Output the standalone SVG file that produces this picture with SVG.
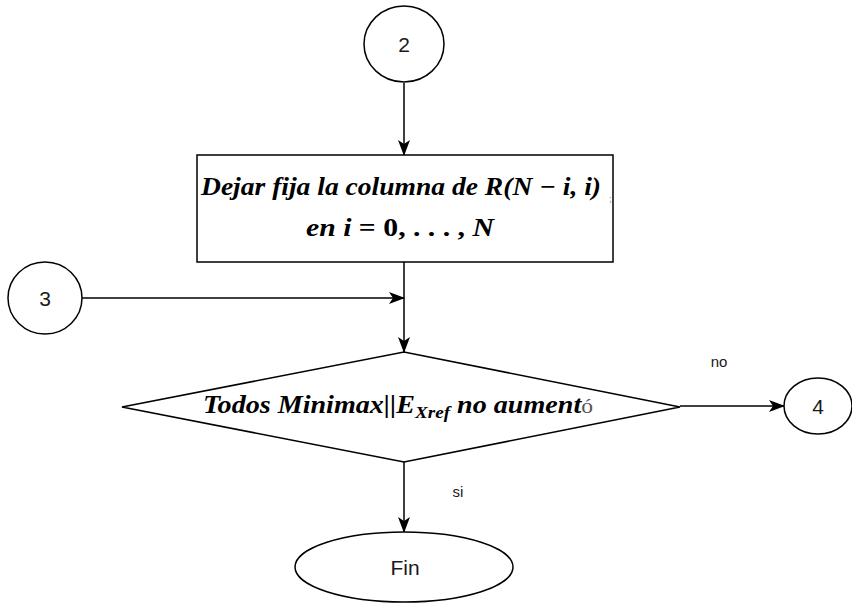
<svg xmlns="http://www.w3.org/2000/svg" width="852" height="605" viewBox="0 0 852 605">
  <style>
    .shape { fill: #ffffff; stroke: #000000; stroke-width: 1.5; }
    .edge { fill: none; stroke: #000000; stroke-width: 1.5; }
    .lbl { font-family: "Liberation Sans", Arial, sans-serif; font-size: 21px; fill: #1a1a1a; text-anchor: middle; }
    .math { font-family: "Liberation Serif", "Times New Roman", serif; font-weight: bold; font-size: 25px; fill: #000000; text-anchor: middle; }
    .it { font-style: italic; }
    .edgelbl { font-family: "Liberation Sans", Arial, sans-serif; font-size: 15px; fill: #1a1a1a; text-anchor: middle; }
  </style>
  <defs>
    <marker id="arrow" viewBox="0 0 16 12" refX="15" refY="6" markerWidth="16" markerHeight="12" markerUnits="userSpaceOnUse" orient="auto">
      <path d="M0,0 L16,6 L0,12 L4,6 Z" fill="#000000"/>
    </marker>
  </defs>
  <rect width="852" height="605" fill="#ffffff"/>

  <g id="edges">
    <path class="edge" d="M404,83 L404,155" marker-end="url(#arrow)"/>
    <path class="edge" d="M82,298 L404,298" marker-end="url(#arrow)"/>
    <path class="edge" d="M404,262 L404,352" marker-end="url(#arrow)"/>
    <path class="edge" d="M680,406 L784,406" marker-end="url(#arrow)"/>
    <path class="edge" d="M404,462 L404,532" marker-end="url(#arrow)"/>
    <text class="edgelbl" x="719" y="367">no</text>
    <text class="edgelbl" x="458" y="497">si</text>
  </g>

  <g id="node-2">
    <ellipse class="shape" cx="404" cy="44" rx="40" ry="38"/>
    <text class="lbl" x="404" y="52">2</text>
  </g>

  <g id="node-fix-column">
    <rect class="shape" x="197" y="155" width="416" height="107"/>
    <text class="math it" x="401" y="195" textLength="400" lengthAdjust="spacingAndGlyphs">Dejar fija la columna de R(N − i, i)</text>
    <text x="609" y="202" font-family="Liberation Serif, serif" font-size="10" fill="#9a9a9a">;</text>
    <text class="math" x="400" y="236" textLength="188" lengthAdjust="spacingAndGlyphs"><tspan class="it">en i</tspan> = 0, . . . , <tspan class="it">N</tspan></text>
  </g>

  <g id="node-3">
    <ellipse class="shape" cx="45" cy="298" rx="37" ry="36"/>
    <text class="lbl" x="45" y="306">3</text>
  </g>

  <g id="node-decision">
    <polygon class="shape" points="122,407 404,352 680,407 404,462"/>
    <text x="398" y="413" font-family="Liberation Serif, 'Times New Roman', serif" font-size="25px" fill="#000000" text-anchor="middle" textLength="390" lengthAdjust="spacingAndGlyphs"><tspan font-style="italic" font-weight="bold">Todos Minimax||E</tspan><tspan font-style="italic" font-weight="bold" font-size="17px" dy="5">Xref</tspan><tspan font-style="italic" font-weight="bold" dy="-5"> no aument</tspan><tspan font-size="21px" fill="#555555">ó</tspan></text>
  </g>

  <g id="node-4">
    <ellipse class="shape" cx="818" cy="406" rx="34" ry="28"/>
    <text class="lbl" x="818" y="414">4</text>
  </g>

  <g id="node-fin">
    <ellipse class="shape" cx="404" cy="567" rx="109" ry="35"/>
    <text class="lbl" x="405" y="575">Fin</text>
  </g>
</svg>
